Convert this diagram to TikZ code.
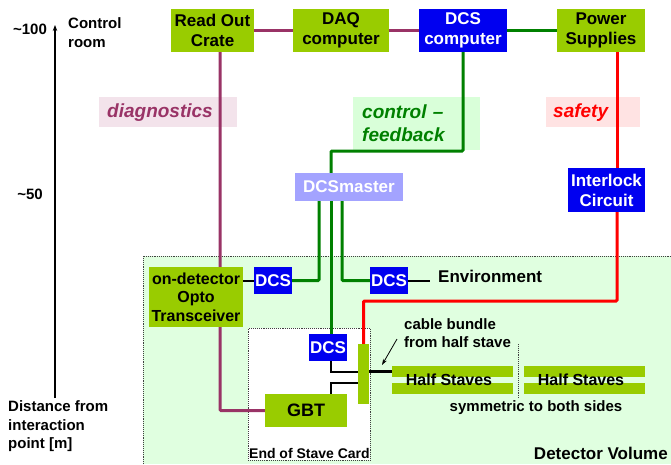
\documentclass[tikz,border=0pt]{standalone}
\usepackage{fontspec}
\setmainfont{Liberation Sans}
\usetikzlibrary{arrows.meta}
\definecolor{limeg}{HTML}{99CC00}
\definecolor{blueb}{HTML}{0000F0}
\definecolor{lav}{HTML}{A3A3FF}
\definecolor{diagc}{HTML}{993366}
\definecolor{ctrlc}{HTML}{008000}
\definecolor{safec}{HTML}{FF0000}
\definecolor{detfill}{HTML}{E0FFE0}
\definecolor{cffill}{HTML}{D9FFD9}
\definecolor{diagfill}{HTML}{F3E3EB}
\definecolor{safefill}{HTML}{FFE3E3}
\pgfdeclarelayer{back}
\pgfdeclarelayer{lines}
\pgfsetlayers{back,lines,main}
\begin{document}
\begin{tikzpicture}[x=1pt,y=-1pt,
  fa/.style={font=\bfseries\fontsize{17}{20}\selectfont},
  fb/.style={font=\bfseries\fontsize{15}{18.5}\selectfont},
  fc/.style={font=\bfseries\fontsize{16}{18.5}\selectfont},
  fi/.style={font=\bfseries\itshape\fontsize{19}{23}\selectfont},
  gbox/.style={fill=limeg, inner sep=0pt, align=center, text=black},
  bbox/.style={fill=blueb, inner sep=0pt, align=center, text=white},
  dcsbox/.style={bbox, fa, minimum width=38pt, minimum height=27pt},
  lbl/.style={inner xsep=8pt, inner ysep=0pt, align=left},
  diagline/.style={draw=diagc, line width=3pt},
  ctrlline/.style={draw=ctrlc, line width=3pt},
  safeline/.style={draw=safec, line width=3pt},
  blkline/.style={draw=black, line width=2pt},
  dotline/.style={draw=black!75, densely dotted, line width=0.9pt},
  stavebar/.style={fill=limeg, minimum width=121pt, minimum height=11pt, inner sep=0pt}
]
\useasboundingbox (0,0) rectangle (671,464);

% ---------- background ----------
\begin{pgfonlayer}{back}
  \fill[detfill] (143,256) rectangle (671,464);
  \draw[dotline] (143,464) -- (143,256) -- (671,256);
  \node[dotline, fill=white, minimum width=122pt, minimum height=132pt, inner sep=0pt, anchor=north west] (esc) at (248,328) {};
  \node[fi, lbl, fill=diagfill, text=diagc, text width=122pt, minimum height=30pt, anchor=north west] (diag) at (99,97) {diagnostics};
  \node[fi, lbl, inner xsep=9pt, fill=cffill, text=ctrlc, text width=109pt, minimum height=53pt, anchor=north west] (cf) at (353,97) {control --\\feedback};
  \node[fi, lbl, inner xsep=7pt, fill=safefill, text=safec, text width=80pt, minimum height=30pt, anchor=north west] (safe) at (546,97) {safety};
\end{pgfonlayer}

% ---------- axis ----------
\coordinate (ax0) at (55,398);
\coordinate (ax1) at (55,25);
\draw[line width=1.3pt, -{Stealth[length=6pt,width=4.5pt]}] (ax0) -- (ax1);
\node[fb] (t100) at (30,29) {\textasciitilde100};
\node[fb] (t50) at (30,194) {\textasciitilde50};
\node[fb, anchor=west, inner sep=0pt, align=left] (croom) at (68,32.5) {Control\\room};
\node[fb, anchor=west, inner sep=0pt, align=left] (dist) at (8,426.5) {Distance from\\interaction\\point [m]};

% ---------- top row ----------
\node[gbox, fa, minimum width=83pt, minimum height=43pt] (roc) at (212.5,30.5) {Read Out\\Crate};
\node[gbox, fa, minimum width=96pt, minimum height=43pt] (daq) at (341,30.5) {DAQ\\computer};
\node[bbox, fa, minimum width=88pt, minimum height=43pt] (dcsc) at (463,30.5) {DCS\\computer};
\node[gbox, fa, minimum width=88pt, minimum height=43pt] (ps) at (601,30.5) {Power\\Supplies};

\node[bbox, fa, minimum width=77pt, minimum height=44pt] (il) at (606.5,190) {Interlock\\Circuit};
\node[fill=lav, text=white, fa, minimum width=108pt, minimum height=28pt, inner sep=0pt] (dcsm) at (349,187) {DCSmaster};

% ---------- detector ----------
\node[gbox, fc, minimum width=94pt, minimum height=60pt] (opto) at (196,297) {on-detector\\Opto\\Transceiver};
\node[dcsbox] (dcsleft) at (273,280.5) {DCS};
\node[dcsbox] (dcsright) at (389,280.5) {DCS};
\node[dcsbox] (dcslow) at (328,347.5) {DCS};
\node[fa, anchor=west, inner sep=0pt] (env) at (438,276) {Environment};
\node[gbox, font=\bfseries\fontsize{18}{20}\selectfont, minimum width=82pt, minimum height=33pt] (gbt) at (306,410.5) {GBT};
\node[fill=limeg, minimum width=11pt, minimum height=60pt, inner sep=0pt] (bar) at (363.5,374) {};
\node[font=\bfseries\fontsize{14}{16}\selectfont, anchor=south, inner sep=2pt] (esclbl) at (esc.south) {End of Stave Card};

\node[stavebar] (hs1) at (452.5,371.5) {};
\node[stavebar] (hs2) at (452.5,388.5) {};
\node[stavebar] (hs3) at (584.5,371.5) {};
\node[stavebar] (hs4) at (584.5,388.5) {};
\node[fc, inner sep=0pt] (hst1) at (449,380) {Half Staves};
\node[fc, inner sep=0pt] (hst2) at (581,380) {Half Staves};
\node[fb, inner sep=0pt] (sym) at (536,408) {symmetric to both sides};
\node[fb, anchor=west, inner sep=0pt, align=left] (cbl) at (404,333) {cable bundle\\from half stave};
\node[fa, anchor=east, inner sep=0pt] (detvol) at (668,453) {Detector Volume};

% ---------- helper coordinates ----------
\coordinate (xP) at (220,0);
\coordinate (xG) at (331,151);
\coordinate (xL) at (319,277);
\coordinate (xR) at (342,278);
\coordinate (rc) at (617,301);
\coordinate (b1) at (358,372);
\coordinate (b2) at (358,383);
\coordinate (envc) at (430,0);
\coordinate (arA) at (397,339);
\coordinate (arB) at (382,365);
\coordinate (sep1) at (518,344);
\coordinate (sep2) at (518,398);

% ---------- connectors ----------
\begin{pgfonlayer}{lines}
  \draw[diagline] (roc) -- (daq);
  \draw[diagline] (daq) -- (dcsc);
  \draw[ctrlline] (dcsc) -- (ps);
  \draw[diagline, rounded corners=1pt] (roc.south -| xP) |- (gbt.west);
  \draw[ctrlline, rounded corners=1pt] (dcsc.south) |- (xG) -- (xG |- dcsm.north);
  \draw[ctrlline] (xG |- dcsm.south) -- (xG |- dcslow.north);
  \draw[ctrlline, rounded corners=1pt] (dcsm.south -| xL) |- (dcsleft.east);
  \draw[ctrlline, rounded corners=1pt] (dcsm.south -| xR) |- (dcsright.west);
  \draw[safeline] (ps.south -| rc) -- (il.north -| rc);
  \draw[safeline, rounded corners=1pt] (il.south -| rc) -- (rc) -| (bar.north);
  \draw[blkline] (opto.east |- dcsleft) -- (dcsleft.west);
  \draw[blkline] (dcsright.east) -- (dcsright.east -| envc);
  \draw[blkline] (dcslow.south -| xG) |- (b1);
  \draw[blkline] (gbt.north -| xG) |- (b2);
  \draw[draw=black, line width=2.5pt] (hs1.west -| bar.east) -- (hs1.west);
  \draw[line width=0.8pt, -{Stealth[length=6pt,width=4pt]}] (arA) -- (arB);
  \draw[dotline] (sep1) -- (sep2);
\end{pgfonlayer}
\end{tikzpicture}
\end{document}
